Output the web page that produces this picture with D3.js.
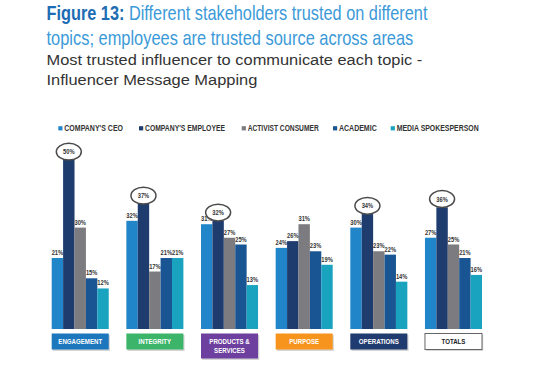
<!DOCTYPE html>
<html><head><meta charset="utf-8">
<script src="https://cdn.jsdelivr.net/npm/d3@7"></script>
<style>body{margin:0;background:#fff}svg{display:block}</style>
</head><body>
<svg id="c" width="550" height="367"></svg>
<script>
const categories = ["ENGAGEMENT","INTEGRITY","PRODUCTS & SERVICES","PURPOSE","OPERATIONS","TOTALS"];
const seriesNames = ["COMPANY'S CEO","COMPANY'S EMPLOYEE","ACTIVIST CONSUMER","ACADEMIC","MEDIA SPOKESPERSON"];
const ceo = [21,32,31,24,30,27];
const employee = [50,37,32,26,34,36];
const activist = [30,17,27,31,23,25];
const academic = [15,21,25,23,22,21];
const media = [12,21,13,19,14,16];
const circled = ["ENGAGEMENT","INTEGRITY","PRODUCTS & SERVICES","OPERATIONS","TOTALS"];
const seriesColors = ["#2186c9","#1f3c6f","#7b7b80","#1a5593","#1aa3bf"];
const catColors = ["#1c77bd","#3cb56b","#6d3f9e","#f7941e","#1f3b6f","#ffffff"];

const series = [ceo, employee, activist, academic, media];
const svg = d3.select("#c");
const COND = "'Liberation Sans Narrow','Arial Narrow','Liberation Sans',Arial,sans-serif";

function fitText(sel, w){
  const n = sel.node(); const L = n.getComputedTextLength();
  const x = +sel.attr("x");
  sel.attr("transform", `translate(${x},0) scale(${w/L},1) translate(${-x},0)`);
}
const t1 = svg.append("text").attr("x",46.5).attr("y",20.5).style("font-family",COND).style("font-size","21px");
t1.append("tspan").attr("fill","#1d6cb4").style("font-weight","bold").text("Figure 13: ");
t1.append("tspan").attr("fill","#3b9ad8").text("Different stakeholders trusted on different");
fitText(t1, 381);
const t2 = svg.append("text").attr("x",46.5).attr("y",45.5).style("font-family",COND).style("font-size","21px").attr("fill","#3b9ad8").text("topics; employees are trusted source across areas");
fitText(t2, 367);
const t3 = svg.append("text").attr("x",46.5).attr("y",65).style("font-family","'Liberation Sans',Arial,sans-serif").style("font-size","15px").attr("fill","#333").text("Most trusted influencer to communicate each topic -");
fitText(t3, 376);
const t4 = svg.append("text").attr("x",46.5).attr("y",85).style("font-family","'Liberation Sans',Arial,sans-serif").style("font-size","15px").attr("fill","#333").text("Influencer Message Mapping");
fitText(t4, 211);

// Legend
const legX = [58.3,139,241.7,333,390.7];
const legW = [58.7,80,71,37.7,82];
seriesNames.forEach((s,i)=>{
  svg.append("rect").attr("x",legX[i]).attr("y",126.2).attr("width",4.2).attr("height",4.2).attr("fill",seriesColors[i]);
  svg.append("text").attr("x",legX[i]+6).attr("y",131).style("font-family",COND).style("font-weight","bold").style("font-size","9px").attr("fill","#333")
    .attr("textLength",legW[i]).attr("lengthAdjust","spacingAndGlyphs").text(s);
});

// Scales
const x0 = d3.scaleBand().domain(categories).range([51.7,482]).paddingInner(0.236).paddingOuter(0);
const x1 = d3.scaleBand().domain(d3.range(5)).range([0,x0.bandwidth()]).padding(0);
const y = d3.scaleLinear().domain([0,50]).range([329,160]);

const g = svg.append("g");
categories.forEach((c,ci)=>{
  const gx = x0(c);
  series.forEach((arr,si)=>{
    g.append("rect").attr("x",gx+x1(si)).attr("y",y(arr[ci])).attr("width",x1.bandwidth()).attr("height",y(0)-y(arr[ci])).attr("fill",seriesColors[si]);
  });
});
function lab(x, yy, txt){
  const gg = svg.append("g").attr("transform",`translate(${x},${yy}) scale(0.8,1)`);
  return gg.append("text").attr("x",0).attr("y",0).attr("text-anchor","middle").style("font-family",COND).style("font-weight","bold").style("font-size","7.2px").attr("fill","#333").text(txt);
}
categories.forEach((c,ci)=>{
  const gx = x0(c);
  series.forEach((arr,si)=>{
    const cx = gx+x1(si)+x1.bandwidth()/2;
    const isC = si===1 && circled.includes(c);
    if(isC){
      svg.append("ellipse").attr("cx",cx).attr("cy",y(arr[ci])-8.3).attr("rx",12.5).attr("ry",8.4).attr("fill","#fff").attr("stroke","#4a4a4a").attr("stroke-width",1.5);
      lab(cx, y(arr[ci])-8.3+2.5, arr[ci]+"%");
    } else {
      lab(cx, y(arr[ci])-3, arr[ci]+"%");
    }
  });
});

// Category boxes
categories.forEach((c,ci)=>{
  const gx = x0(c), w = x0.bandwidth();
  const two = c.includes("&");
  const h = two ? 25 : 16;
  const top = 333.5;
  svg.append("rect").attr("x",gx+1.2).attr("y",top+1.5).attr("width",w).attr("height",h).attr("fill","#bbb").attr("opacity",0.6);
  svg.append("rect").attr("x",gx).attr("y",top).attr("width",w).attr("height",h).attr("fill",catColors[ci])
    .attr("stroke", ci===5 ? "#666" : "none").attr("stroke-width",1);
  const col = ci===5 ? "#222" : "#fff";
  const tg = svg.append("g").attr("transform",`translate(${gx+w/2},0) scale(0.85,1)`);
  if(two){
    const parts = ["PRODUCTS &","SERVICES"];
    parts.forEach((p,k)=>tg.append("text").attr("x",0).attr("y",top+10.5+k*9.5).attr("text-anchor","middle").style("font-family",COND).style("font-weight","bold").style("font-size","7.2px").attr("fill",col).text(p));
  } else {
    tg.append("text").attr("x",0).attr("y",top+10.5).attr("text-anchor","middle").style("font-family",COND).style("font-weight","bold").style("font-size","7.2px").attr("fill",col).text(c);
  }
});
</script>
</body></html>
